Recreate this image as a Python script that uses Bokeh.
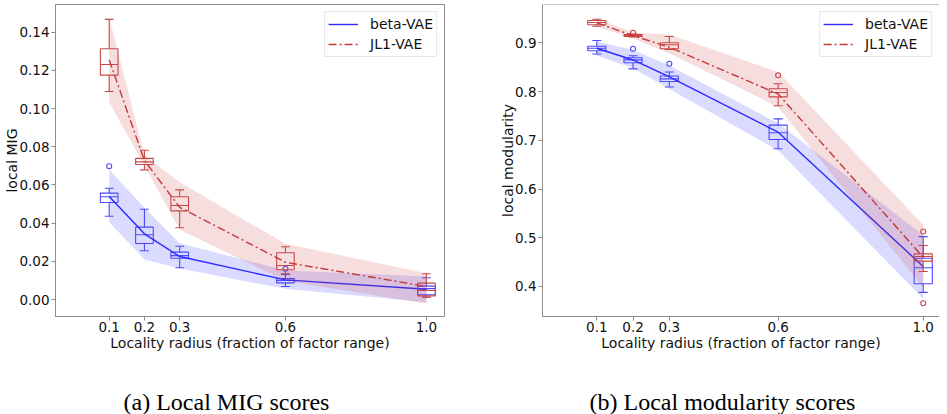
from bokeh.plotting import figure
from bokeh.layouts import column, row
from bokeh.models import FixedTicker, Range1d, Span
from bokeh.core.properties import value
from bokeh.embed import file_html
from bokeh.resources import INLINE
import numpy as np

# ---------------- data ----------------
radius = [0.1, 0.2, 0.3, 0.6, 1.0]
x_tick_labels = ["0.1", "0.2", "0.3", "0.6", "1.0"]
mig_ticks = [0.00, 0.02, 0.04, 0.06, 0.08, 0.10, 0.12, 0.14]
mig_tick_labels = ["0.00", "0.02", "0.04", "0.06", "0.08", "0.10", "0.12", "0.14"]
mod_ticks = [0.4, 0.5, 0.6, 0.7, 0.8, 0.9]
mod_tick_labels = ["0.4", "0.5", "0.6", "0.7", "0.8", "0.9"]

# local MIG, beta-VAE
mig_beta_mean = [0.0540, 0.0344, 0.0225, 0.0103, 0.0054]
mig_beta_hi = [0.0679, 0.0480, 0.0295, 0.0152, 0.0120]
mig_beta_lo = [0.0405, 0.0210, 0.0162, 0.0056, -0.0014]
mig_beta_q1 = [0.0508, 0.0293, 0.0216, 0.0087, 0.0025]
mig_beta_med = [0.0538, 0.0339, 0.0230, 0.0100, 0.0057]
mig_beta_q3 = [0.0557, 0.0379, 0.0248, 0.0110, 0.0070]
mig_beta_wlo = [0.0436, 0.0255, 0.0166, 0.0068, 0.0012]
mig_beta_whi = [0.0583, 0.0473, 0.0279, 0.0131, 0.0114]
mig_beta_out_x = [0.1, 0.6]
mig_beta_out_y = [0.0698, 0.0161]

# local MIG, JL1-VAE
mig_jl1_mean = [0.1255, 0.0728, 0.0483, 0.0195, 0.0068]
mig_jl1_hi = [0.1477, 0.0755, 0.0614, 0.0292, 0.0138]
mig_jl1_lo = [0.1033, 0.0700, 0.0365, 0.0098, -0.0022]
mig_jl1_q1 = [0.1175, 0.0707, 0.0464, 0.0156, 0.0019]
mig_jl1_med = [0.1231, 0.0721, 0.0492, 0.0178, 0.0047]
mig_jl1_q3 = [0.1313, 0.0739, 0.0538, 0.0245, 0.0086]
mig_jl1_wlo = [0.1089, 0.0679, 0.0376, 0.0135, 0.0012]
mig_jl1_whi = [0.1467, 0.0782, 0.0574, 0.0276, 0.0135]
mig_jl1_out_x = []
mig_jl1_out_y = []

# local modularity, beta-VAE
mod_beta_mean = [0.8888, 0.8648, 0.8302, 0.7165, 0.4410]
mod_beta_hi = [0.9027, 0.8850, 0.8534, 0.7350, 0.5050]
mod_beta_lo = [0.8740, 0.8480, 0.8050, 0.6790, 0.3750]
mod_beta_q1 = [0.8836, 0.8592, 0.8206, 0.7016, 0.4055]
mod_beta_med = [0.8888, 0.8650, 0.8260, 0.7153, 0.4383]
mod_beta_q3 = [0.8928, 0.8692, 0.8318, 0.7310, 0.4580]
mod_beta_wlo = [0.8770, 0.8466, 0.8093, 0.6825, 0.3880]
mod_beta_whi = [0.9047, 0.8735, 0.8400, 0.7440, 0.5022]
mod_beta_out_x = [0.2, 0.3]
mod_beta_out_y = [0.8877, 0.8570]

# local modularity, JL1-VAE
mod_jl1_mean = [0.9410, 0.9147, 0.8910, 0.7950, 0.4600]
mod_jl1_hi = [0.9500, 0.9210, 0.9170, 0.8400, 0.5265]
mod_jl1_lo = [0.9335, 0.9088, 0.8787, 0.7680, 0.3980]
mod_jl1_q1 = [0.9370, 0.9130, 0.8877, 0.7890, 0.4520]
mod_jl1_med = [0.9417, 0.9150, 0.8959, 0.7980, 0.4614]
mod_jl1_q3 = [0.9457, 0.9170, 0.9000, 0.8056, 0.4670]
mod_jl1_wlo = [0.9340, 0.9120, 0.8862, 0.7707, 0.4307]
mod_jl1_whi = [0.9484, 0.9180, 0.9130, 0.8159, 0.4840]
mod_jl1_out_x = [0.2, 0.6, 1.0, 1.0]
mod_jl1_out_y = [0.9205, 0.8335, 0.5128, 0.3656]

# ---------------- style ----------------
BLUE_LINE = "#2a2aff"
BLUE_BOX = "#4a4aff"
BLUE_FILL = "#0000ff"
RED_LINE = "#c43838"
RED_BOX = "#c84848"
RED_FILL = "#c83c3c"
SPINE = "#8c8c8c"
TEXT = "#111111"
BOX_W = 0.05
CAP_HALF = 0.0125
RED_DASH = "8 3 2 3"


def draw_series(p, mean, lo, hi, q1, med, q3, wlo, whi, ox, oy,
                line_color, box_color, fill_color, fill_alpha, dash, label):
    x = np.array(radius)
    p.varea(x=radius, y1=lo, y2=hi, fill_color=fill_color, fill_alpha=fill_alpha)
    p.vbar(x=radius, width=BOX_W, bottom=q1, top=q3, fill_color=None,
           line_color=box_color, line_width=1.1)
    p.segment(x0=x - BOX_W / 2, y0=med, x1=x + BOX_W / 2, y1=med,
              line_color=box_color, line_width=1.1)
    p.segment(x0=radius, y0=q3, x1=radius, y1=whi, line_color=box_color, line_width=1.1)
    p.segment(x0=radius, y0=q1, x1=radius, y1=wlo, line_color=box_color, line_width=1.1)
    p.segment(x0=x - CAP_HALF, y0=whi, x1=x + CAP_HALF, y1=whi,
              line_color=box_color, line_width=1.1)
    p.segment(x0=x - CAP_HALF, y0=wlo, x1=x + CAP_HALF, y1=wlo,
              line_color=box_color, line_width=1.1)
    if len(ox):
        p.scatter(x=ox, y=oy, marker="circle", size=5, fill_color=None,
                  line_color=box_color, line_width=1.1)
    p.line(x=radius, y=mean, line_color=line_color, line_width=1.4,
           line_dash=dash, legend_label=label)


def make_panel(width, mbl, mbr, xr, yr, yticks, ylabels, ylabel, full_outline):
    p = figure(width=width, height=358, output_backend="svg", toolbar_location=None,
               x_range=Range1d(*xr), y_range=Range1d(*yr),
               min_border_left=mbl, min_border_right=mbr,
               min_border_top=4, min_border_bottom=42)
    p.background_fill_color = "white"
    p.border_fill_color = "white"
    p.xgrid.visible = False
    p.ygrid.visible = False
    p.xaxis.ticker = FixedTicker(ticks=radius)
    p.xaxis.major_label_overrides = {t: s for t, s in zip(radius, x_tick_labels)}
    p.yaxis.ticker = FixedTicker(ticks=yticks)
    p.yaxis.major_label_overrides = {t: s for t, s in zip(yticks, ylabels)}
    p.xaxis.axis_label = "Locality radius (fraction of factor range)"
    p.yaxis.axis_label = ylabel
    for ax in (p.xaxis, p.yaxis):
        ax.axis_line_color = SPINE
        ax.major_tick_line_color = SPINE
        ax.major_tick_out = 4
        ax.major_tick_in = 0
        ax.minor_tick_line_color = None
        ax.major_label_text_font = "DejaVu Sans"
        ax.major_label_text_font_size = "13.5px"
        ax.major_label_text_color = TEXT
        ax.axis_label_text_font = "DejaVu Sans"
        ax.axis_label_text_font_size = "14px"
        ax.axis_label_text_font_style = "normal"
        ax.axis_label_text_color = TEXT
    p.xaxis.major_label_standoff = 1
    p.xaxis.axis_label_standoff = 0
    p.yaxis.major_label_standoff = 2
    try:
        p.yaxis.axis_label_standoff = -4
    except Exception:
        p.yaxis.axis_label_standoff = 0
    if full_outline:
        p.outline_line_color = SPINE
        p.outline_line_width = 1
    else:
        p.outline_line_color = None
        p.add_layout(Span(location=yr[1], dimension="width",
                          line_color=SPINE, line_width=1))
    return p


def style_legend(p):
    lg = p.legend[0]
    lg.location = "top_right"
    lg.margin = 7
    lg.padding = 3
    lg.spacing = 2
    lg.glyph_width = 30
    lg.glyph_height = 18
    lg.label_height = 18
    lg.label_standoff = 12
    lg.label_text_font = "DejaVu Sans"
    lg.label_text_font_size = "14px"
    lg.label_text_color = TEXT
    lg.border_line_color = "#d0d0d0"
    lg.border_line_width = 1
    lg.background_fill_alpha = 0.85


p1 = make_panel(482, 55, 38, (-0.0523, 1.0512), (-0.0089, 0.1545),
                mig_ticks, mig_tick_labels, "local MIG", True)
draw_series(p1, mig_beta_mean, mig_beta_lo, mig_beta_hi, mig_beta_q1, mig_beta_med,
            mig_beta_q3, mig_beta_wlo, mig_beta_whi, mig_beta_out_x, mig_beta_out_y,
            BLUE_LINE, BLUE_BOX, BLUE_FILL, 0.14, "solid", "beta-VAE")
draw_series(p1, mig_jl1_mean, mig_jl1_lo, mig_jl1_hi, mig_jl1_q1, mig_jl1_med,
            mig_jl1_q3, mig_jl1_wlo, mig_jl1_whi, mig_jl1_out_x, mig_jl1_out_y,
            RED_LINE, RED_BOX, RED_FILL, 0.17, RED_DASH, "JL1-VAE")
style_legend(p1)

p2 = make_panel(457, 60, 0, (-0.0497, 1.0449), (0.3384, 0.9786),
                mod_ticks, mod_tick_labels, "local modularity", False)
draw_series(p2, mod_beta_mean, mod_beta_lo, mod_beta_hi, mod_beta_q1, mod_beta_med,
            mod_beta_q3, mod_beta_wlo, mod_beta_whi, mod_beta_out_x, mod_beta_out_y,
            BLUE_LINE, BLUE_BOX, BLUE_FILL, 0.14, "solid", "beta-VAE")
draw_series(p2, mod_jl1_mean, mod_jl1_lo, mod_jl1_hi, mod_jl1_q1, mod_jl1_med,
            mod_jl1_q3, mod_jl1_wlo, mod_jl1_whi, mod_jl1_out_x, mod_jl1_out_y,
            RED_LINE, RED_BOX, RED_FILL, 0.17, RED_DASH, "JL1-VAE")
style_legend(p2)


def caption(width, cx, text):
    c = figure(width=width, height=56, output_backend="svg", toolbar_location=None,
               x_range=Range1d(0, width), y_range=Range1d(0, 56),
               x_axis_type=None, y_axis_type=None,
               min_border=0, min_border_left=0, min_border_right=0,
               min_border_top=0, min_border_bottom=0)
    c.outline_line_color = None
    c.xgrid.visible = False
    c.ygrid.visible = False
    c.text(x=[cx], y=[12.3], text=[text], text_font=value("Liberation Serif"),
           text_font_size=value("24px"), text_align="center",
           text_baseline="middle", text_color="black")
    return c


c1 = caption(482, 226, "(a) Local MIG scores")
c2 = caption(457, 240, "(b) Local modularity scores")

layout = column(row(p1, p2, spacing=0), row(c1, c2, spacing=0), spacing=0)
open("out.html", "w").write(file_html(layout, INLINE))
